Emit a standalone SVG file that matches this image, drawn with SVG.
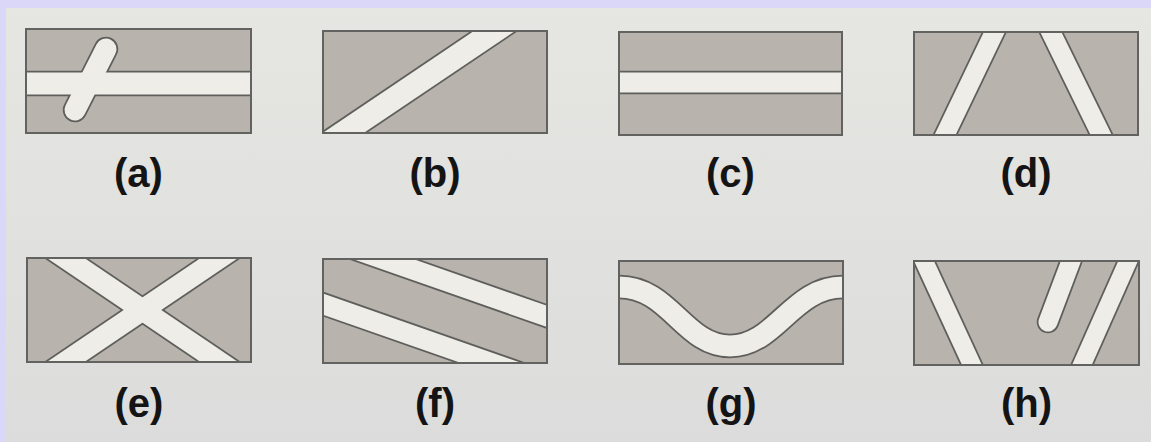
<svg xmlns="http://www.w3.org/2000/svg" width="1151" height="442" viewBox="0 0 1151 442">
<style>
.bg{fill:#e2e2de}
.panel{fill:#b8b4ad}
.frame{fill:none;stroke:#626260;stroke-width:2}
.edge{stroke:#5e5e5c;fill:none}
.band{stroke:#eeede8;fill:none}
.lbl{font-family:"Liberation Sans",Arial,sans-serif;font-weight:bold;font-size:40px;fill:#141414;text-anchor:middle}
</style>
<defs>
<linearGradient id="bgg" x1="0" y1="0" x2="0" y2="1">
<stop offset="0" stop-color="#e6e6e2"/>
<stop offset="1" stop-color="#dcdcdc"/>
</linearGradient>
<clipPath id="ca"><rect x="26" y="29" width="225" height="104"/></clipPath>
<clipPath id="cb"><rect x="323" y="31" width="224" height="102"/></clipPath>
<clipPath id="cc"><rect x="619" y="32" width="223" height="103"/></clipPath>
<clipPath id="cd"><rect x="914" y="32" width="224" height="103"/></clipPath>
<clipPath id="ce"><rect x="27" y="258" width="224" height="104"/></clipPath>
<clipPath id="cf"><rect x="323" y="259" width="224" height="104"/></clipPath>
<clipPath id="cg"><rect x="619" y="261" width="224" height="103"/></clipPath>
<clipPath id="ch"><rect x="914" y="261" width="225" height="104"/></clipPath>
</defs>
<rect x="0" y="0" width="1151" height="442" fill="url(#bgg)"/>
<rect x="0" y="0" width="1151" height="8" fill="#dad7f8"/>
<rect x="0" y="0" width="6" height="442" fill="#dad7f8"/>

<g id="panel-a">
<rect class="panel" x="26" y="29" width="225" height="104"/>
<g clip-path="url(#ca)">
<line class="edge" x1="10" y1="83.5" x2="270" y2="83.5" stroke-width="25.5"/>
<line class="edge" x1="106" y1="49" x2="75" y2="110" stroke-width="24.5" stroke-linecap="round"/>
<line class="band" x1="10" y1="83.5" x2="270" y2="83.5" stroke-width="22"/>
<line class="band" x1="106" y1="49" x2="75" y2="110" stroke-width="21" stroke-linecap="round"/>
</g>
<rect class="frame" x="26" y="29" width="225" height="104"/>
<text class="lbl" x="138.5" y="187">(a)</text>
</g>

<g id="panel-b">
<rect class="panel" x="323" y="31" width="224" height="102"/>
<g clip-path="url(#cb)">
<line class="edge" x1="300" y1="162" x2="539" y2="1" stroke-width="26.5"/>
<line class="band" x1="300" y1="162" x2="539" y2="1" stroke-width="23"/>
</g>
<rect class="frame" x="323" y="31" width="224" height="102"/>
<text class="lbl" x="435" y="187">(b)</text>
</g>

<g id="panel-c">
<rect class="panel" x="619" y="32" width="223" height="103"/>
<g clip-path="url(#cc)">
<line class="edge" x1="600" y1="82.5" x2="860" y2="82.5" stroke-width="23.5"/>
<line class="band" x1="600" y1="82.5" x2="860" y2="82.5" stroke-width="20"/>
</g>
<rect class="frame" x="619" y="32" width="223" height="103"/>
<text class="lbl" x="730.5" y="187">(c)</text>
</g>

<g id="panel-d">
<rect class="panel" x="914" y="32" width="224" height="103"/>
<g clip-path="url(#cd)">
<line class="edge" x1="935.4" y1="155" x2="1004" y2="12" stroke-width="22.5"/>
<line class="edge" x1="1041" y1="12" x2="1111" y2="155" stroke-width="22.5"/>
<line class="band" x1="935.4" y1="155" x2="1004" y2="12" stroke-width="19"/>
<line class="band" x1="1041" y1="12" x2="1111" y2="155" stroke-width="19"/>
</g>
<rect class="frame" x="914" y="32" width="224" height="103"/>
<text class="lbl" x="1026" y="187">(d)</text>
</g>

<g id="panel-e">
<rect class="panel" x="27" y="258" width="224" height="104"/>
<g clip-path="url(#ce)">
<line class="edge" x1="36" y1="238" x2="249" y2="382" stroke-width="24.5"/>
<line class="edge" x1="249" y1="238" x2="36" y2="382" stroke-width="24.5"/>
<line class="band" x1="36" y1="238" x2="249" y2="382" stroke-width="21"/>
<line class="band" x1="249" y1="238" x2="36" y2="382" stroke-width="21"/>
</g>
<rect class="frame" x="27" y="258" width="224" height="104"/>
<text class="lbl" x="139" y="417">(e)</text>
</g>

<g id="panel-f">
<rect class="panel" x="323" y="259" width="224" height="104"/>
<g clip-path="url(#cf)">
<line class="edge" x1="300" y1="230" x2="570" y2="324.5" stroke-width="23.5"/>
<line class="edge" x1="300" y1="296" x2="570" y2="390.5" stroke-width="23.5"/>
<line class="band" x1="300" y1="230" x2="570" y2="324.5" stroke-width="20"/>
<line class="band" x1="300" y1="296" x2="570" y2="390.5" stroke-width="20"/>
</g>
<rect class="frame" x="323" y="259" width="224" height="104"/>
<text class="lbl" x="435" y="417">(f)</text>
</g>

<g id="panel-g">
<rect class="panel" x="619" y="261" width="224" height="103"/>
<g clip-path="url(#cg)">
<path class="edge" d="M600,287 L619,287 C670,287 684,346 730,346 C776,346 792,287 843,287 L860,287" stroke-width="24.5"/>
<path class="band" d="M600,287 L619,287 C670,287 684,346 730,346 C776,346 792,287 843,287 L860,287" stroke-width="21"/>
</g>
<rect class="frame" x="619" y="261" width="224" height="103"/>
<text class="lbl" x="731" y="417">(g)</text>
</g>

<g id="panel-h">
<rect class="panel" x="914" y="261" width="225" height="104"/>
<g clip-path="url(#ch)">
<line class="edge" x1="914.8" y1="241" x2="981.2" y2="385" stroke-width="21.5"/>
<line class="edge" x1="1137" y1="241" x2="1073" y2="385" stroke-width="21.5"/>
<line class="edge" x1="1077" y1="245" x2="1048" y2="322" stroke-width="22.5" stroke-linecap="round"/>
<line class="band" x1="914.8" y1="241" x2="981.2" y2="385" stroke-width="18"/>
<line class="band" x1="1137" y1="241" x2="1073" y2="385" stroke-width="18"/>
<line class="band" x1="1077" y1="245" x2="1048" y2="322" stroke-width="19" stroke-linecap="round"/>
</g>
<rect class="frame" x="914" y="261" width="225" height="104"/>
<text class="lbl" x="1026.5" y="417">(h)</text>
</g>
</svg>
